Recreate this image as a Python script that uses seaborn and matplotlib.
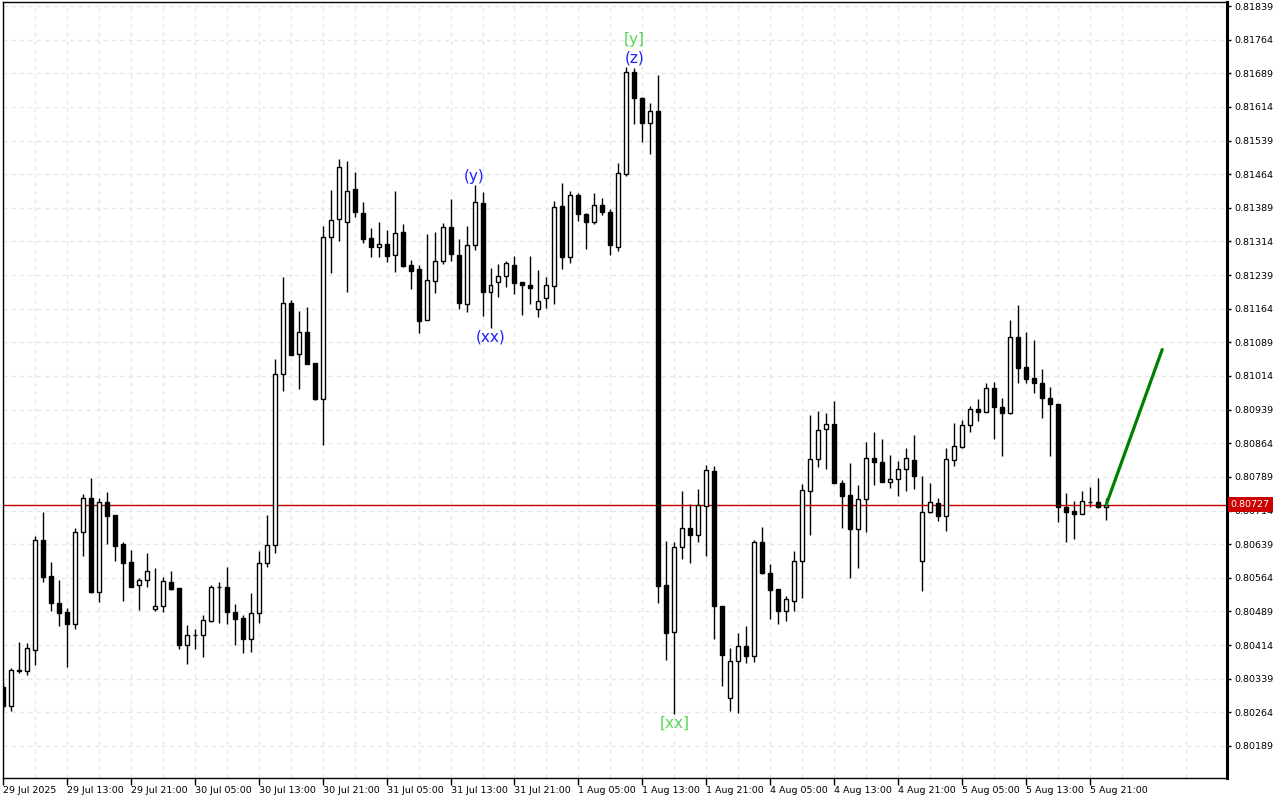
import numpy as np
import pandas as pd
import matplotlib.pyplot as plt
import matplotlib.transforms as mtransforms
import seaborn as sns

# hourly candles, bar 0 = 29 Jul 05:00 (weekend hours are skipped)
opens = [0.80321, 0.80277, 0.80358, 0.80357, 0.80404, 0.80648, 0.80568, 0.80507, 0.80488, 0.80462,
         0.80665, 0.80741, 0.80532, 0.80732, 0.80704, 0.80639, 0.80599, 0.80547, 0.80558, 0.80494,
         0.80502, 0.80555, 0.80541, 0.80413, 0.80436, 0.80436, 0.80468, 0.80543, 0.80543, 0.80487,
         0.80474, 0.80428, 0.80486, 0.80598, 0.80636, 0.81018, 0.81176, 0.81062, 0.81111, 0.81042,
         0.80962, 0.81323, 0.81363, 0.81357, 0.81432, 0.81377, 0.81321, 0.81302, 0.81308, 0.81283,
         0.81334, 0.81261, 0.81253, 0.81139, 0.81225, 0.81270, 0.81346, 0.81283, 0.81175, 0.81305,
         0.81399, 0.81201, 0.81223, 0.81236, 0.81261, 0.81224, 0.81217, 0.81163, 0.81189, 0.81215,
         0.81393, 0.81280, 0.81418, 0.81375, 0.81358, 0.81395, 0.81380, 0.81302, 0.81464, 0.81691,
         0.81633, 0.81579, 0.81605, 0.80547, 0.80444, 0.80633, 0.80676, 0.80660, 0.80725, 0.80802,
         0.80501, 0.80295, 0.80378, 0.80411, 0.80390, 0.80643, 0.80574, 0.80539, 0.80491, 0.80513,
         0.80601, 0.80757, 0.80828, 0.80895, 0.80908, 0.80775, 0.80748, 0.80672, 0.80740, 0.80830,
         0.80822, 0.80778, 0.80785, 0.80807, 0.80826, 0.80601, 0.80710, 0.80730, 0.80701, 0.80826,
         0.80855, 0.80904, 0.80940, 0.80934, 0.80987, 0.80944, 0.80931, 0.81100, 0.81033, 0.81009,
         0.80998, 0.80966, 0.80951, 0.80721, 0.80713, 0.80706, 0.80734, 0.80734, 0.80721]
highs = [0.80329, 0.80363, 0.80421, 0.80419, 0.80657, 0.80711, 0.80600, 0.80559, 0.80496, 0.80674,
         0.80751, 0.80786, 0.80743, 0.80755, 0.80704, 0.80644, 0.80626, 0.80564, 0.80619, 0.80585,
         0.80566, 0.80579, 0.80541, 0.80459, 0.80449, 0.80481, 0.80548, 0.80555, 0.80587, 0.80506,
         0.80481, 0.80529, 0.80624, 0.80704, 0.81051, 0.81235, 0.81183, 0.81159, 0.81168, 0.81043,
         0.81348, 0.81429, 0.81497, 0.81493, 0.81469, 0.81402, 0.81343, 0.81357, 0.81340, 0.81427,
         0.81353, 0.81273, 0.81261, 0.81331, 0.81336, 0.81356, 0.81409, 0.81319, 0.81348, 0.81441,
         0.81424, 0.81255, 0.81264, 0.81270, 0.81282, 0.81224, 0.81282, 0.81250, 0.81235, 0.81404,
         0.81445, 0.81427, 0.81421, 0.81378, 0.81423, 0.81412, 0.81386, 0.81488, 0.81703, 0.81701,
         0.81636, 0.81623, 0.81686, 0.80647, 0.80644, 0.80758, 0.80729, 0.80763, 0.80815, 0.80814,
         0.80501, 0.80407, 0.80440, 0.80456, 0.80648, 0.80678, 0.80595, 0.80539, 0.80523, 0.80624,
         0.80773, 0.80927, 0.80936, 0.80932, 0.80958, 0.80782, 0.80819, 0.80771, 0.80866, 0.80888,
         0.80873, 0.80838, 0.80824, 0.80853, 0.80882, 0.80791, 0.80775, 0.80741, 0.80853, 0.80910,
         0.80916, 0.80946, 0.80962, 0.80998, 0.81001, 0.80964, 0.81139, 0.81172, 0.81111, 0.81094,
         0.81029, 0.80989, 0.80951, 0.80752, 0.80735, 0.80757, 0.80767, 0.80786, 0.80741]
lows = [0.80269, 0.80268, 0.80352, 0.80347, 0.80369, 0.80555, 0.80491, 0.80457, 0.80366, 0.80449,
        0.80613, 0.80530, 0.80511, 0.80639, 0.80602, 0.80513, 0.80544, 0.80492, 0.80543, 0.80491,
        0.80488, 0.80537, 0.80406, 0.80372, 0.80406, 0.80388, 0.80465, 0.80464, 0.80462, 0.80415,
        0.80396, 0.80399, 0.80464, 0.80589, 0.80619, 0.80981, 0.81060, 0.80986, 0.81041, 0.80960,
        0.80860, 0.81244, 0.81316, 0.81202, 0.81369, 0.81310, 0.81279, 0.81279, 0.81269, 0.81247,
        0.81258, 0.81207, 0.81109, 0.81139, 0.81198, 0.81263, 0.81270, 0.81163, 0.81157, 0.81296,
        0.81148, 0.81122, 0.81191, 0.81212, 0.81197, 0.81151, 0.81174, 0.81146, 0.81166, 0.81174,
        0.81252, 0.81265, 0.81359, 0.81297, 0.81352, 0.81373, 0.81284, 0.81293, 0.81460, 0.81575,
        0.81535, 0.81509, 0.80508, 0.80380, 0.80260, 0.80605, 0.80597, 0.80644, 0.80613, 0.80428,
        0.80323, 0.80268, 0.80263, 0.80373, 0.80377, 0.80572, 0.80472, 0.80461, 0.80468, 0.80490,
        0.80520, 0.80659, 0.80812, 0.80807, 0.80775, 0.80676, 0.80564, 0.80586, 0.80667, 0.80772,
        0.80778, 0.80765, 0.80747, 0.80758, 0.80763, 0.80535, 0.80708, 0.80691, 0.80669, 0.80814,
        0.80853, 0.80890, 0.80914, 0.80934, 0.80873, 0.80836, 0.80929, 0.80999, 0.80999, 0.80975,
        0.80920, 0.80836, 0.80689, 0.80644, 0.80650, 0.80706, 0.80721, 0.80719, 0.80692]
closes = [0.80277, 0.80358, 0.80357, 0.80407, 0.80648, 0.80565, 0.80508, 0.80486, 0.80462, 0.80666,
          0.80741, 0.80532, 0.80732, 0.80702, 0.80635, 0.80598, 0.80544, 0.80559, 0.80579, 0.80501,
          0.80557, 0.80540, 0.80413, 0.80436, 0.80436, 0.80469, 0.80543, 0.80543, 0.80488, 0.80473,
          0.80428, 0.80485, 0.80598, 0.80636, 0.81018, 0.81176, 0.81061, 0.81111, 0.81041, 0.80963,
          0.81323, 0.81361, 0.81479, 0.81426, 0.81380, 0.81320, 0.81302, 0.81308, 0.81282, 0.81332,
          0.81260, 0.81249, 0.81137, 0.81227, 0.81270, 0.81346, 0.81285, 0.81177, 0.81305, 0.81401,
          0.81202, 0.81218, 0.81236, 0.81265, 0.81221, 0.81217, 0.81211, 0.81181, 0.81217, 0.81390,
          0.81280, 0.81418, 0.81375, 0.81358, 0.81395, 0.81379, 0.81307, 0.81466, 0.81693, 0.81635,
          0.81579, 0.81606, 0.80546, 0.80441, 0.80633, 0.80676, 0.80660, 0.80726, 0.80805, 0.80502,
          0.80392, 0.80378, 0.80411, 0.80390, 0.80643, 0.80575, 0.80537, 0.80491, 0.80516, 0.80601,
          0.80760, 0.80828, 0.80894, 0.80908, 0.80775, 0.80747, 0.80672, 0.80739, 0.80830, 0.80823,
          0.80778, 0.80785, 0.80807, 0.80830, 0.80792, 0.80710, 0.80734, 0.80702, 0.80828, 0.80857,
          0.80904, 0.80940, 0.80934, 0.80987, 0.80944, 0.80931, 0.81100, 0.81032, 0.81007, 0.80999,
          0.80966, 0.80951, 0.80722, 0.80711, 0.80706, 0.80735, 0.80734, 0.80721, 0.80727]

time_ticks = [0, 8, 16, 24, 32, 40, 48, 56, 64, 72, 80, 88, 96, 104, 112, 120, 128, 136]
time_labels = ['29 Jul 2025', '29 Jul 13:00', '29 Jul 21:00', '30 Jul 05:00', '30 Jul 13:00',
               '30 Jul 21:00', '31 Jul 05:00', '31 Jul 13:00', '31 Jul 21:00', '1 Aug 05:00',
               '1 Aug 13:00', '1 Aug 21:00', '4 Aug 05:00', '4 Aug 13:00', '4 Aug 21:00',
               '5 Aug 05:00', '5 Aug 13:00', '5 Aug 21:00']
price_ticks = [0.81839, 0.81764, 0.81689, 0.81614, 0.81539, 0.81464, 0.81389, 0.81314,
               0.81239, 0.81164, 0.81089, 0.81014, 0.80939, 0.80864, 0.80789, 0.80714,
               0.80639, 0.80564, 0.80489, 0.80414, 0.80339, 0.80264, 0.80189]

last_price = 0.80727
proj_bars = [138, 145]
proj_prices = [0.80727, 0.81073]

# wave labels: text, bar, placed at high or low
wave_text = ['[y]', '(z)', '(y)', '(xx)', '[xx]']
wave_bar = [79, 79, 59, 61, 84]
wave_side = ['high', 'high', 'high', 'low', 'low']
wave_color = ['#55d655', '#1f1fff', '#1f1fff', '#1f1fff', '#55d655']
wave_offset = [20.5, 7, 5.5, -7, -6.5]

o = np.array(opens)
h = np.array(highs)
l = np.array(lows)
c = np.array(closes)
bars = np.arange(len(o))

sns.set_theme(style='white')
plt.rcParams['font.family'] = ['DejaVu Sans']

fig = plt.figure(figsize=(12.8, 8), dpi=100)
ax = fig.add_axes([2.7 / 1280, 22 / 800, (1227 - 2.7) / 1280, 776 / 800])

# wicks then bodies
ax.vlines(bars, l, h, color='black', lw=1, zorder=2)
bull = c > o
ax.bar(bars, np.maximum(np.abs(c - o), 1e-7), bottom=np.minimum(o, c), width=0.5,
       color=np.where(bull, 'white', 'black'), edgecolor='black', linewidth=1, zorder=3)

# last price line + label
ax.axhline(last_price, color='#c00000', lw=1, zorder=2.5)
trans = mtransforms.blended_transform_factory(ax.transAxes, ax.transData)
ax.text(1.003, last_price, '0.80727', transform=trans, color='white', fontsize=6.8,
        va='center', ha='left', zorder=10, clip_on=False,
        bbox=dict(boxstyle='square,pad=0.3', fc='#cc0000', ec='none'))

# projection line
proj = pd.DataFrame({'bar': proj_bars, 'price': proj_prices})
sns.lineplot(data=proj, x='bar', y='price', color='#008000', lw=2.3, ax=ax, zorder=5)

# wave labels
for txt, b, side, col, off in zip(wave_text, wave_bar, wave_side, wave_color, wave_offset):
    yv = h[b] if side == 'high' else l[b]
    ax.annotate(txt, xy=(b, yv), xytext=(0, off), textcoords='offset points',
                ha='center', va='center', color=col, fontsize=11, zorder=6)

ax.set_xlim(0.09, 153.1)
ax.set_ylim(0.801175, 0.81848)
ax.set_xlabel('')
ax.set_ylabel('')

ax.set_yticks(price_ticks)
ax.set_yticklabels([f'{p:.5f}' for p in price_ticks])
ax.yaxis.tick_right()
ax.set_xticks(time_ticks)
ax.set_xticklabels(time_labels)
ax.set_xticks(np.arange(4, 153, 8), minor=True)
for lbl in ax.get_xticklabels():
    lbl.set_horizontalalignment('left')

ax.tick_params(axis='y', which='major', direction='out', length=3, width=1,
               labelsize=6.8, pad=2, colors='black', right=True, left=False)
ax.tick_params(axis='x', which='major', direction='out', length=5, width=1,
               labelsize=6.8, pad=1, colors='black', bottom=True)
ax.tick_params(axis='x', which='minor', length=0)

ax.xaxis.grid(True, which='both', color='#e6e6e6', linestyle=(0, (3, 3)), lw=1)
ax.yaxis.grid(True, which='major', color='#e6e6e6', linestyle=(0, (3, 3)), lw=1)
ax.set_axisbelow(True)

for side in ['left', 'top', 'bottom']:
    ax.spines[side].set_color('black')
    ax.spines[side].set_linewidth(1)
ax.spines['right'].set_color('black')
ax.spines['right'].set_linewidth(2.2)

fig.savefig('out.png', dpi=100)
